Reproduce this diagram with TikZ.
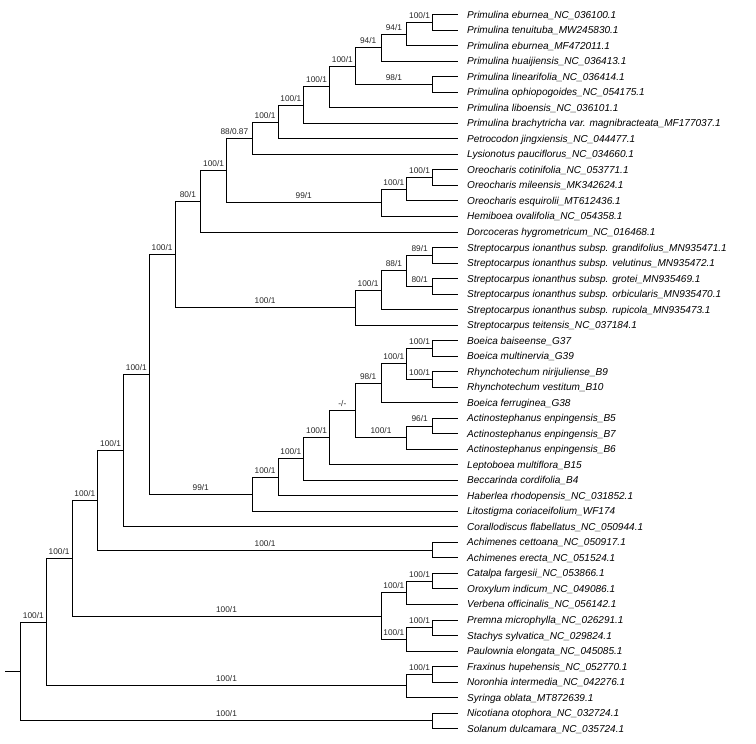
\documentclass[tikz,border=0pt]{standalone}
\usepackage{fontspec}
\setmainfont{Liberation Sans}
\usetikzlibrary{calc}
\newcommand\inode[4]{\path let \p1=($(#3)!0.5!(#4)$) in ({(20.5+25.75*#2)*1pt},\y1) coordinate (#1);}
\newcommand\ed[3]{\draw[br] (#1) |- (#2) node[sup,pos=0.75]{#3};}
\newcommand\lf[2]{\draw[br] (#1) |- (#2.west);}
\begin{document}
\begin{tikzpicture}[x=1pt,y=-1pt,
  leaf/.style={anchor=west, inner xsep=9pt, inner ysep=0pt, text height=7pt, text depth=0pt, font=\fontsize{10.05}{11}\selectfont\itshape},
  br/.style={line width=0.95pt, draw=black},
  sup/.style={anchor=base, inner sep=0pt, yshift=4pt, font=\fontsize{8.3}{9}\selectfont, text=black!85}]
\useasboundingbox (0,0) rectangle (756,744);
\foreach \i/\s in {
1/{Primulina eburnea\_NC\_036100.1},
2/{Primulina tenuituba\_MW245830.1},
3/{Primulina eburnea\_MF472011.1},
4/{Primulina huaijiensis\_NC\_036413.1},
5/{Primulina linearifolia\_NC\_036414.1},
6/{Primulina ophiopogoides\_NC\_054175.1},
7/{Primulina liboensis\_NC\_036101.1},
8/{Primulina brachytricha var. magnibracteata\_MF177037.1},
9/{Petrocodon jingxiensis\_NC\_044477.1},
10/{Lysionotus pauciflorus\_NC\_034660.1},
11/{Oreocharis cotinifolia\_NC\_053771.1},
12/{Oreocharis mileensis\_MK342624.1},
13/{Oreocharis esquirolii\_MT612436.1},
14/{Hemiboea ovalifolia\_NC\_054358.1},
15/{Dorcoceras hygrometricum\_NC\_016468.1},
16/{Streptocarpus ionanthus subsp. grandifolius\_MN935471.1},
17/{Streptocarpus ionanthus subsp. velutinus\_MN935472.1},
18/{Streptocarpus ionanthus subsp. grotei\_MN935469.1},
19/{Streptocarpus ionanthus subsp. orbicularis\_MN935470.1},
20/{Streptocarpus ionanthus subsp. rupicola\_MN935473.1},
21/{Streptocarpus teitensis\_NC\_037184.1},
22/{Boeica baiseense\_G37},
23/{Boeica multinervia\_G39},
24/{Rhynchotechum nirijuliense\_B9},
25/{Rhynchotechum vestitum\_B10},
26/{Boeica ferruginea\_G38},
27/{Actinostephanus enpingensis\_B5},
28/{Actinostephanus enpingensis\_B7},
29/{Actinostephanus enpingensis\_B6},
30/{Leptoboea multiflora\_B15},
31/{Beccarinda cordifolia\_B4},
32/{Haberlea rhodopensis\_NC\_031852.1},
33/{Litostigma coriaceifolium\_WF174},
34/{Corallodiscus flabellatus\_NC\_050944.1},
35/{Achimenes cettoana\_NC\_050917.1},
36/{Achimenes erecta\_NC\_051524.1},
37/{Catalpa fargesii\_NC\_053866.1},
38/{Oroxylum indicum\_NC\_049086.1},
39/{Verbena officinalis\_NC\_056142.1},
40/{Premna microphylla\_NC\_026291.1},
41/{Stachys sylvatica\_NC\_029824.1},
42/{Paulownia elongata\_NC\_045085.1},
43/{Fraxinus hupehensis\_NC\_052770.1},
44/{Noronhia intermedia\_NC\_042276.1},
45/{Syringa oblata\_MT872639.1},
46/{Nicotiana otophora\_NC\_032724.1},
47/{Solanum dulcamara\_NC\_035724.1}}
  \node[leaf] (t\i) at (458,{14.7+15.52*(\i-1)}) {\s};
% internal nodes
\inode{c1}{16}{t1}{t2}
\inode{R}{15}{c1}{t3}
\inode{Q}{14}{R}{t4}
\inode{c2}{16}{t5}{t6}
\inode{P}{13}{Q}{c2}
\inode{O}{12}{P}{t7}
\inode{N}{11}{O}{t8}
\inode{M}{10}{N}{t9}
\inode{J}{9}{M}{t10}
\inode{c3}{16}{t11}{t12}
\inode{L}{15}{c3}{t13}
\inode{K}{14}{L}{t14}
\inode{I}{8}{J}{K}
\inode{H}{7}{I}{t15}
\inode{c4}{16}{t16}{t17}
\inode{c5}{16}{t18}{t19}
\inode{U}{15}{c4}{c5}
\inode{T}{14}{U}{t20}
\inode{S}{13}{T}{t21}
\inode{F}{6}{H}{S}
\inode{c6}{16}{t22}{t23}
\inode{c7}{16}{t24}{t25}
\inode{ZZ}{15}{c6}{c7}
\inode{Z}{14}{ZZ}{t26}
\inode{c8}{16}{t27}{t28}
\inode{AA}{15}{c8}{t29}
\inode{Y}{13}{Z}{AA}
\inode{X}{12}{Y}{t30}
\inode{W}{11}{X}{t31}
\inode{V}{10}{W}{t32}
\inode{G}{9}{V}{t33}
\inode{E}{5}{F}{G}
\inode{D}{4}{E}{t34}
\inode{c13}{16}{t35}{t36}
\inode{C}{3}{D}{c13}
\inode{c9}{16}{t37}{t38}
\inode{LM1}{15}{c9}{t39}
\inode{c10}{16}{t40}{t41}
\inode{LM2}{15}{c10}{t42}
\inode{LM}{14}{LM1}{LM2}
\inode{B}{2}{C}{LM}
\inode{c11}{16}{t43}{t44}
\inode{OL}{15}{c11}{t45}
\inode{A}{1}{B}{OL}
\inode{c12}{16}{t46}{t47}
\inode{root}{0}{A}{c12}
\path (root) ++(-15.5,0) coordinate (stub);
% branches
\draw[br] (stub) -- (root);
\ed{root}{A}{100/1} \ed{root}{c12}{100/1}
\lf{c12}{t46} \lf{c12}{t47}
\ed{A}{B}{100/1} \ed{A}{OL}{100/1}
\ed{OL}{c11}{100/1} \lf{OL}{t45}
\lf{c11}{t43} \lf{c11}{t44}
\ed{B}{C}{100/1} \ed{B}{LM}{100/1}
\ed{LM}{LM1}{100/1} \ed{LM}{LM2}{100/1}
\ed{LM1}{c9}{100/1} \lf{LM1}{t39}
\lf{c9}{t37} \lf{c9}{t38}
\ed{LM2}{c10}{100/1} \lf{LM2}{t42}
\lf{c10}{t40} \lf{c10}{t41}
\ed{C}{D}{100/1} \ed{C}{c13}{100/1}
\lf{c13}{t35} \lf{c13}{t36}
\ed{D}{E}{100/1} \lf{D}{t34}
\ed{E}{F}{100/1} \ed{E}{G}{99/1}
\ed{G}{V}{100/1} \lf{G}{t33}
\ed{V}{W}{100/1} \lf{V}{t32}
\ed{W}{X}{100/1} \lf{W}{t31}
\ed{X}{Y}{-/-} \lf{X}{t30}
\ed{Y}{Z}{98/1} \ed{Y}{AA}{100/1}
\ed{AA}{c8}{96/1} \lf{AA}{t29}
\lf{c8}{t27} \lf{c8}{t28}
\ed{Z}{ZZ}{100/1} \lf{Z}{t26}
\ed{ZZ}{c6}{100/1} \ed{ZZ}{c7}{100/1}
\lf{c6}{t22} \lf{c6}{t23}
\lf{c7}{t24} \lf{c7}{t25}
\ed{F}{H}{80/1} \ed{F}{S}{100/1}
\ed{S}{T}{100/1} \lf{S}{t21}
\ed{T}{U}{88/1} \lf{T}{t20}
\ed{U}{c4}{89/1} \ed{U}{c5}{80/1}
\lf{c4}{t16} \lf{c4}{t17}
\lf{c5}{t18} \lf{c5}{t19}
\ed{H}{I}{100/1} \lf{H}{t15}
\draw[br] (I) |- (J) node[sup,pos=0.75,xshift=-5pt]{88/0.87};
\ed{I}{K}{99/1}
\ed{K}{L}{100/1} \lf{K}{t14}
\ed{L}{c3}{100/1} \lf{L}{t13}
\lf{c3}{t11} \lf{c3}{t12}
\ed{J}{M}{100/1} \lf{J}{t10}
\ed{M}{N}{100/1} \lf{M}{t9}
\ed{N}{O}{100/1} \lf{N}{t8}
\ed{O}{P}{100/1} \lf{O}{t7}
\ed{P}{Q}{94/1} \ed{P}{c2}{98/1}
\lf{c2}{t5} \lf{c2}{t6}
\ed{Q}{R}{94/1} \lf{Q}{t4}
\ed{R}{c1}{100/1} \lf{R}{t3}
\lf{c1}{t1} \lf{c1}{t2}
\end{tikzpicture}
\end{document}
